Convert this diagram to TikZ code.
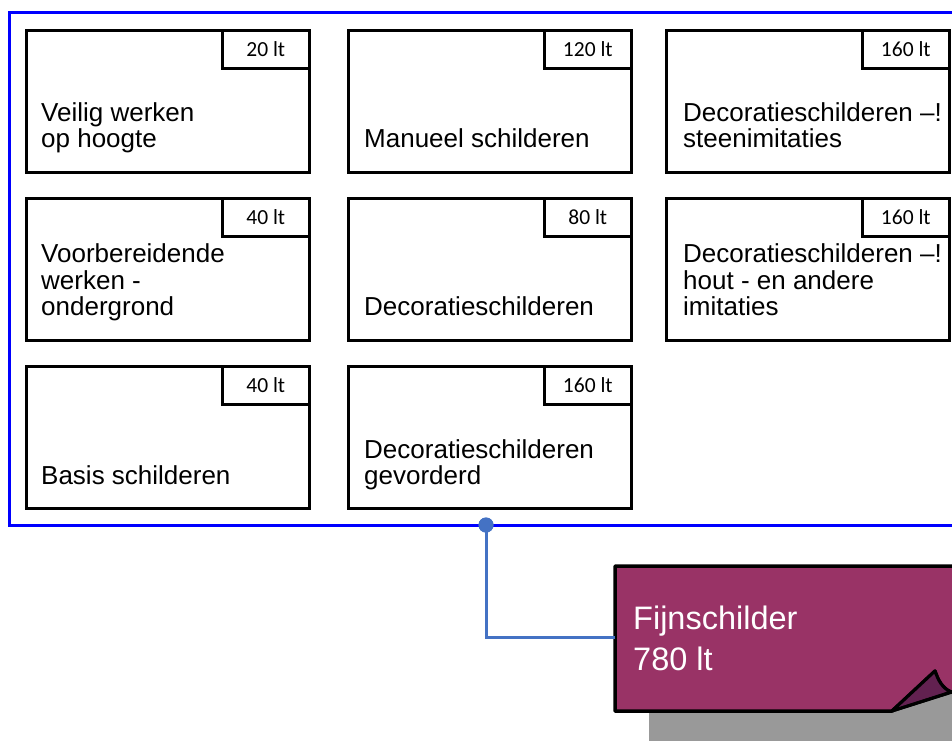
\documentclass[tikz,border=0pt]{standalone}
\usepackage{fontspec}
\setmainfont{Liberation Sans}
\newfontfamily\lblfont{Carlito}
\definecolor{frameblue}{RGB}{0,0,255}
\definecolor{connblue}{RGB}{68,114,196}
\definecolor{plum}{RGB}{153,51,102}
\definecolor{darkplum}{RGB}{98,33,80}
\definecolor{shadowgrey}{RGB}{153,153,153}
\begin{document}
\begin{tikzpicture}[x=1pt,y=-1pt,
  card/.style={draw=black, line width=2.6pt, fill=white, anchor=north west,
    minimum width=283pt, minimum height=142pt, inner sep=0pt},
  lbl/.style={draw=black, line width=2.6pt, anchor=north east,
    minimum width=87pt, minimum height=38pt, inner sep=0pt,
    font=\lblfont\fontsize{21.5}{24}\selectfont},
  txt/.style={anchor=south west, inner sep=0pt, text depth=0pt, align=left,
    font=\fontsize{26}{26.5}\selectfont},
  bigtxt/.style={anchor=south west, inner sep=0pt, text depth=0pt, align=left,
    text=white, font=\fontsize{32.5}{41}\selectfont},
  conn/.style={draw=connblue, line width=3pt}]
\useasboundingbox (0,0) rectangle (952,740);
\clip (0,0) rectangle (952,740);
% outer frame
\draw[frameblue, line width=3pt] (9,12) rectangle (970,525);
% cards
\node[card] (b1) at (25,29) {};
\node[card] (b2) at (347,29) {};
\node[card] (b3) at (665,29) {};
\node[card] (b4) at (25,197) {};
\node[card] (b5) at (347,197) {};
\node[card] (b6) at (665,197) {};
\node[card] (b7) at (25,365) {};
\node[card] (b8) at (347,365) {};
\node[lbl] (l1) at (b1.north east) {20 lt};
\node[lbl] (l2) at (b2.north east) {120 lt};
\node[lbl] (l3) at (b3.north east) {160 lt};
\node[lbl] (l4) at (b4.north east) {40 lt};
\node[lbl] (l5) at (b5.north east) {80 lt};
\node[lbl] (l6) at (b6.north east) {160 lt};
\node[lbl] (l7) at (b7.north east) {40 lt};
\node[lbl] (l8) at (b8.north east) {160 lt};
\node[txt] (t1) at (41,148) {Veilig werken\\op hoogte};
\node[txt] (t2) at (364,148) {Manueel schilderen};
\node[txt] (t3) at (683,148) {Decoratieschilderen –!\\steenimitaties};
\node[txt] (t4) at (41,316) {Voorbereidende\\werken -\\ondergrond};
\node[txt] (t5) at (364,316) {Decoratieschilderen};
\node[txt] (t6) at (683,316) {Decoratieschilderen –!\\hout - en andere\\imitaties};
\node[txt] (t7) at (41,485) {Basis schilderen};
\node[txt] (t8) at (364,485) {Decoratieschilderen\\gevorderd};
% shadow
\fill[shadowgrey] (649,711) -- (892,711) -- (960,689) -- (960,745) -- (649,745) -- cycle;
% purple box
\draw[black, line width=3.5pt, fill=plum, line join=round]
  (615,566) -- (975,566) -- (975,686) -- (951,692)
  .. controls (942,688) and (938,680) .. (935,671)
  -- (892,711) -- (615,711) -- cycle;
\draw[black, line width=3pt, fill=darkplum, line join=round]
  (892,711) -- (935,671) .. controls (938,680) and (942,688) .. (951,692) -- cycle;
\draw[black, line width=3pt] (892,711) -- (965,688);
\coordinate (fsleft) at (615,637);
\node[bigtxt] (fs) at (633,671) {Fijnschilder\\780 lt};
% connector
\node[circle, fill=connblue, minimum size=15pt, inner sep=0pt] (dot) at (486,525) {};
\draw[conn] (dot.center) |- (fsleft);
\fill[connblue] (dot) circle (7.5pt);
\end{tikzpicture}
\end{document}
